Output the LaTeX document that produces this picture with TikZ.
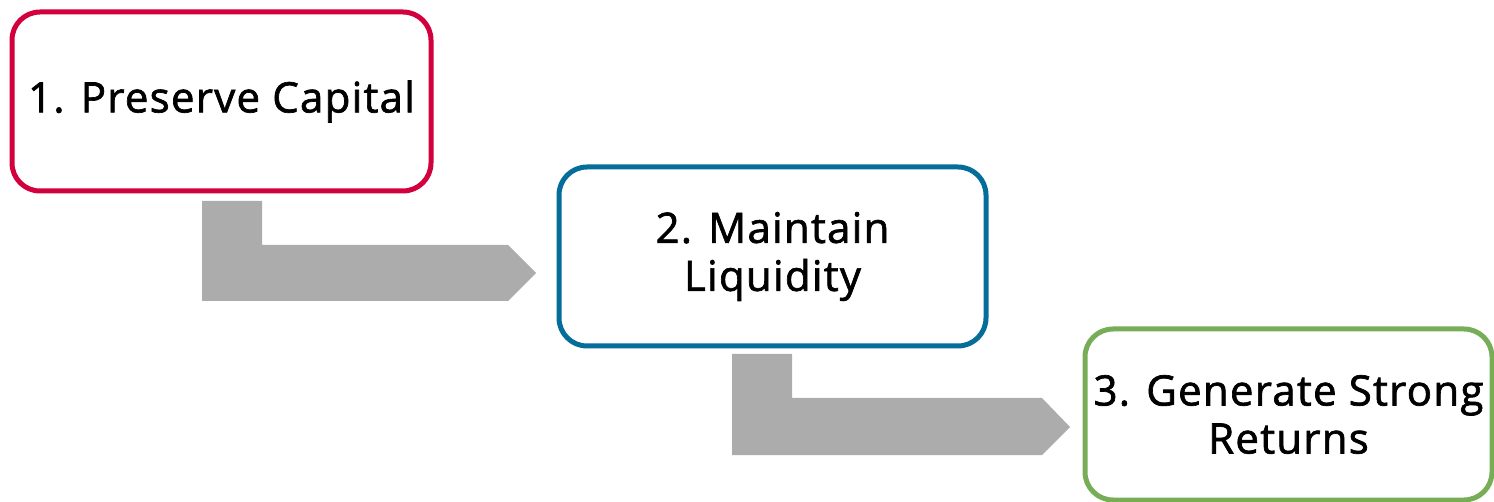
\documentclass[tikz,border=0pt]{standalone}
\usepackage{fontspec}
\setmainfont{Open Sans}[FakeBold=1.6,LetterSpace=3]
\definecolor{boxred}{HTML}{D2003C}
\definecolor{boxblue}{HTML}{046D99}
\definecolor{boxgreen}{HTML}{78AD58}
\definecolor{arrowgray}{HTML}{ACACAC}
\begin{document}
\begin{tikzpicture}[x=1pt,y=-1pt,
  stepbox/.style={draw,line width=5pt,rounded corners=28pt,fill=white,inner sep=0pt,
    align=center,font=\fontsize{42}{48}\selectfont},
  bentarrow/.style={fill=arrowgray,draw=none}]
\useasboundingbox (0,0) rectangle (1494,502);
\node[stepbox,draw=boxred,minimum width=419pt,minimum height=179pt] (b1) at (221.5,101.5) {1. Preserve Capital};
\node[stepbox,draw=boxblue,minimum width=427pt,minimum height=179pt] (b2) at (772.5,256.5) {2. Maintain\\Liquidity};
\node[stepbox,draw=boxgreen,minimum width=407pt,minimum height=171pt] (b3) at (1288.5,414.5) {3. Generate Strong\\Returns};
% bent arrows
\fill[bentarrow] (202,201) -- (262,201) -- (262,245) -- (508,245) -- (536,273) -- (508,301) -- (202,301) -- cycle;
\fill[bentarrow] (732,354) -- (792,354) -- (792,398) -- (1042,398) -- (1070,427) -- (1042,455) -- (732,455) -- cycle;
\end{tikzpicture}
\end{document}
